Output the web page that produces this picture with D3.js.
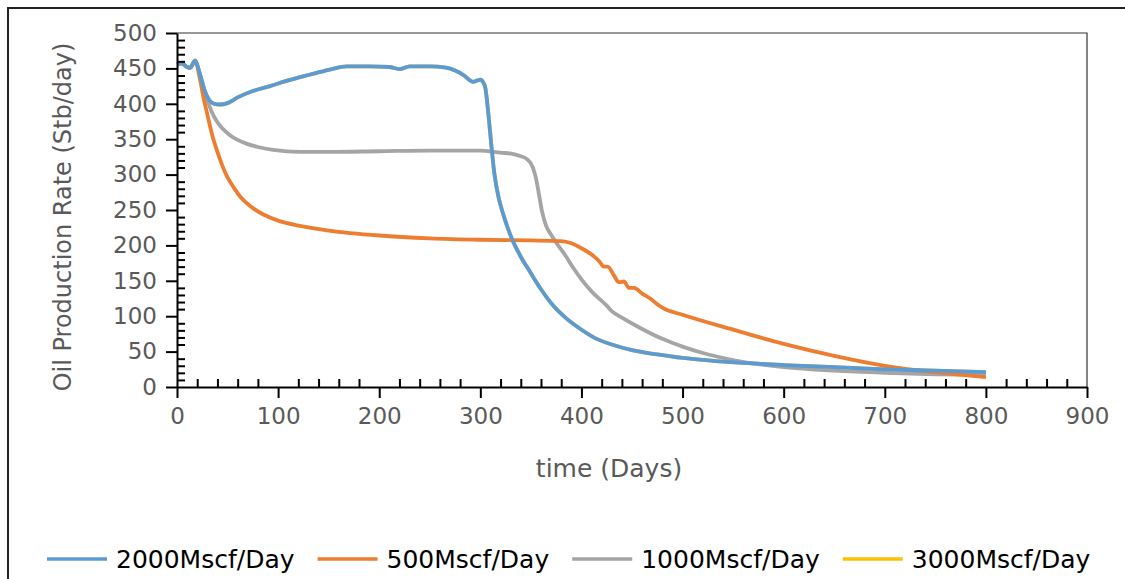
<!DOCTYPE html>
<html>
<head>
<meta charset="utf-8">
<script src="https://cdn.jsdelivr.net/npm/d3@7"></script>
<style>
  body { margin: 0; background: #fff; }
  svg { display: block; font-family: "DejaVu Sans", sans-serif; }
</style>
</head>
<body>
<svg id="chart"></svg>
<script>
// data (days, stb/day)
var days2000 = [0, 5, 10, 13, 18, 22, 27, 32, 37, 42, 50, 60, 75, 92, 110, 131, 150, 168, 190, 210, 220, 230, 250, 266, 275, 283, 293, 297, 300, 303, 305, 308, 311, 314, 318, 322, 327, 331, 340, 349, 360, 372, 385, 399, 415, 430, 450, 475, 500, 530, 560, 600, 650, 700, 750, 800];
var rate2000 = [456, 457, 452, 451, 461, 445, 420, 405, 400, 399, 401, 409, 418, 425, 433, 441, 448, 453, 453, 452, 449, 453, 453, 451, 447, 441, 431, 433, 434, 430, 422, 385, 340, 300, 268, 247, 225, 210, 184, 163, 138, 115, 97, 82, 68, 60, 52, 46, 41, 37, 34, 31, 28, 25, 23, 21];

var days500 = [0, 5, 10, 13, 18, 22, 26, 30, 35, 40, 45, 50, 56, 63, 72, 85, 100, 120, 150, 200, 250, 300, 350, 380, 390, 400, 410, 418, 422, 426, 432, 437, 442, 447, 452, 460, 468, 474, 480, 500, 550, 600, 650, 700, 750, 800];
var rate500 = [456, 457, 452, 451, 461, 440, 410, 385, 355, 332, 312, 296, 282, 268, 256, 244, 235, 228, 221, 214, 210, 208, 207, 206, 203, 196, 187, 177, 170, 170, 158, 148, 149, 140, 140, 132, 125, 118, 112, 102, 81, 61, 44, 30, 21, 14];

var days1000 = [0, 5, 10, 13, 18, 22, 27, 30, 34, 39, 45, 52, 60, 70, 80, 95, 121, 150, 200, 250, 300, 320, 333, 340, 346, 352, 355, 358, 361, 365, 370, 376, 384, 392, 400, 410, 418, 425, 430, 440, 460, 480, 500, 520, 550, 600, 650, 700, 750, 800];
var rate1000 = [456, 457, 452, 451, 461, 445, 420, 405, 390, 376, 365, 356, 349, 343, 339, 335, 332, 332, 333, 334, 334, 331, 329, 326, 322, 310, 295, 272, 248, 228, 215, 202, 186, 168, 152, 135, 124, 115, 107, 98, 82, 68, 57, 48, 38, 28, 23, 20, 18, 17];

var days3000 = [0, 5, 10, 13, 18, 22, 27, 32, 37, 42, 50, 60, 75, 92, 110, 131, 150, 168, 190, 210, 220, 230, 250, 266, 275, 283, 293, 297, 300, 303, 305, 308, 311, 314, 318, 322, 327, 331, 340, 349, 360, 372, 385, 399, 415, 430, 450, 475, 500, 530, 560, 600, 650, 700, 750, 800];
var rate3000 = [456, 457, 452, 451, 461, 445, 420, 405, 400, 399, 401, 409, 418, 425, 433, 441, 448, 453, 453, 452, 449, 453, 453, 451, 447, 441, 431, 433, 434, 430, 422, 385, 340, 300, 268, 247, 225, 210, 184, 163, 138, 115, 97, 82, 68, 60, 52, 46, 41, 37, 34, 31, 28, 25, 23, 21];

var seriesNames = ["2000Mscf/Day", "500Mscf/Day", "1000Mscf/Day", "3000Mscf/Day"];
var seriesColors = ["#5B9BD5", "#ED7D31", "#A5A5A5", "#FFC000"];

var xTicks = [0, 100, 200, 300, 400, 500, 600, 700, 800, 900];
var yTicks = [0, 50, 100, 150, 200, 250, 300, 350, 400, 450, 500];

var screen = {width: 1125, height: 579};
var plot = {left: 177, top: 33, right: 1087, bottom: 387};

var series = [
    {name: seriesNames[0], color: seriesColors[0], x: days2000, y: rate2000},
    {name: seriesNames[1], color: seriesColors[1], x: days500, y: rate500},
    {name: seriesNames[2], color: seriesColors[2], x: days1000, y: rate1000},
    {name: seriesNames[3], color: seriesColors[3], x: days3000, y: rate3000}
];

var svg = d3.select("#chart")
    .attr("width", screen.width)
    .attr("height", screen.height);

// outer frame (runs off the right and bottom of the picture)
svg.append("rect")
    .attr("x", 8).attr("y", 8)
    .attr("width", 1140).attr("height", 620)
    .attr("fill", "none")
    .attr("stroke", "#222")
    .attr("stroke-width", 2);

var xScale = d3.scaleLinear()
    .domain([0, 900])
    .range([plot.left, plot.right]);

var yScale = d3.scaleLinear()
    .domain([0, 500])
    .range([plot.bottom, plot.top]);

// top and right border of plot area
svg.append("path")
    .attr("d", "M" + plot.left + "," + plot.top + "H" + plot.right + "V" + plot.bottom)
    .attr("fill", "none")
    .attr("stroke", "#333")
    .attr("stroke-width", 1.2);

// lines: yellow first, blue on top
var line = d3.line()
    .x(function(d) { return xScale(d[0]); })
    .y(function(d) { return yScale(d[1]); })
    .curve(d3.curveMonotoneX);

var drawOrder = [3, 2, 1, 0];
drawOrder.forEach(function(i)
{
    var s = series[i];
    var pts = s.x.map(function(v, k) { return [v, s.y[k]]; });
    svg.append("path")
        .datum(pts)
        .attr("d", line)
        .attr("fill", "none")
        .attr("stroke", s.color)
        .attr("stroke-width", 3.8)
        .attr("stroke-linejoin", "round");
});

// minor ticks (inside)
var xMinor = d3.range(20, 900, 20).filter(function(v) { return v % 100 != 0; });
var yMinor = d3.range(10, 500, 10).filter(function(v) { return v % 50 != 0; });

svg.append("g")
    .attr("transform", "translate(0," + plot.bottom + ")")
    .call(d3.axisBottom(xScale).tickValues(xMinor).tickSize(-8).tickFormat(""))
    .call(function(g) { g.select(".domain").remove(); })
    .selectAll("line").attr("stroke", "#000").attr("stroke-width", 2);

svg.append("g")
    .attr("transform", "translate(" + plot.left + ",0)")
    .call(d3.axisLeft(yScale).tickValues(yMinor).tickSize(-8).tickFormat(""))
    .call(function(g) { g.select(".domain").remove(); })
    .selectAll("line").attr("stroke", "#000").attr("stroke-width", 2);

// major axes
var xAxis = svg.append("g")
    .attr("transform", "translate(0," + plot.bottom + ")")
    .call(d3.axisBottom(xScale).tickValues(xTicks).tickSizeInner(11).tickSizeOuter(0).tickPadding(10));

var yAxis = svg.append("g")
    .attr("transform", "translate(" + plot.left + ",0)")
    .call(d3.axisLeft(yScale).tickValues(yTicks).tickSizeInner(11).tickSizeOuter(0).tickPadding(9));

[xAxis, yAxis].forEach(function(ax)
{
    ax.select(".domain").attr("stroke", "#000").attr("stroke-width", 2);
    ax.selectAll("line").attr("stroke", "#000").attr("stroke-width", 2);
    ax.selectAll("text")
        .attr("fill", "#595959")
        .style("font-size", "23px")
        .style("font-family", "DejaVu Sans");
});

// axis titles
svg.append("text")
    .attr("x", 609)
    .attr("y", 477)
    .attr("text-anchor", "middle")
    .attr("fill", "#595959")
    .style("font-size", "25px")
    .text("time (Days)");

svg.append("text")
    .attr("transform", "translate(71,217) rotate(-90)")
    .attr("text-anchor", "middle")
    .attr("fill", "#595959")
    .style("font-size", "24px")
    .text("Oil Production Rate (Stb/day)");

// legend
var legend = svg.append("g").attr("transform", "translate(47,559)");
var lx = 0;
series.forEach(function(s)
{
    var item = legend.append("g").attr("transform", "translate(" + lx + ",0)");
    item.append("line")
        .attr("x1", 0).attr("x2", 60)
        .attr("y1", 0).attr("y2", 0)
        .attr("stroke", s.color)
        .attr("stroke-width", 3.5);
    var t = item.append("text")
        .attr("x", 69)
        .attr("y", 0)
        .attr("dy", "0.35em")
        .attr("fill", "#000")
        .style("font-size", "25px")
        .text(s.name);
    lx += 69 + t.node().getComputedTextLength() + 23;
});
</script>
</body>
</html>
